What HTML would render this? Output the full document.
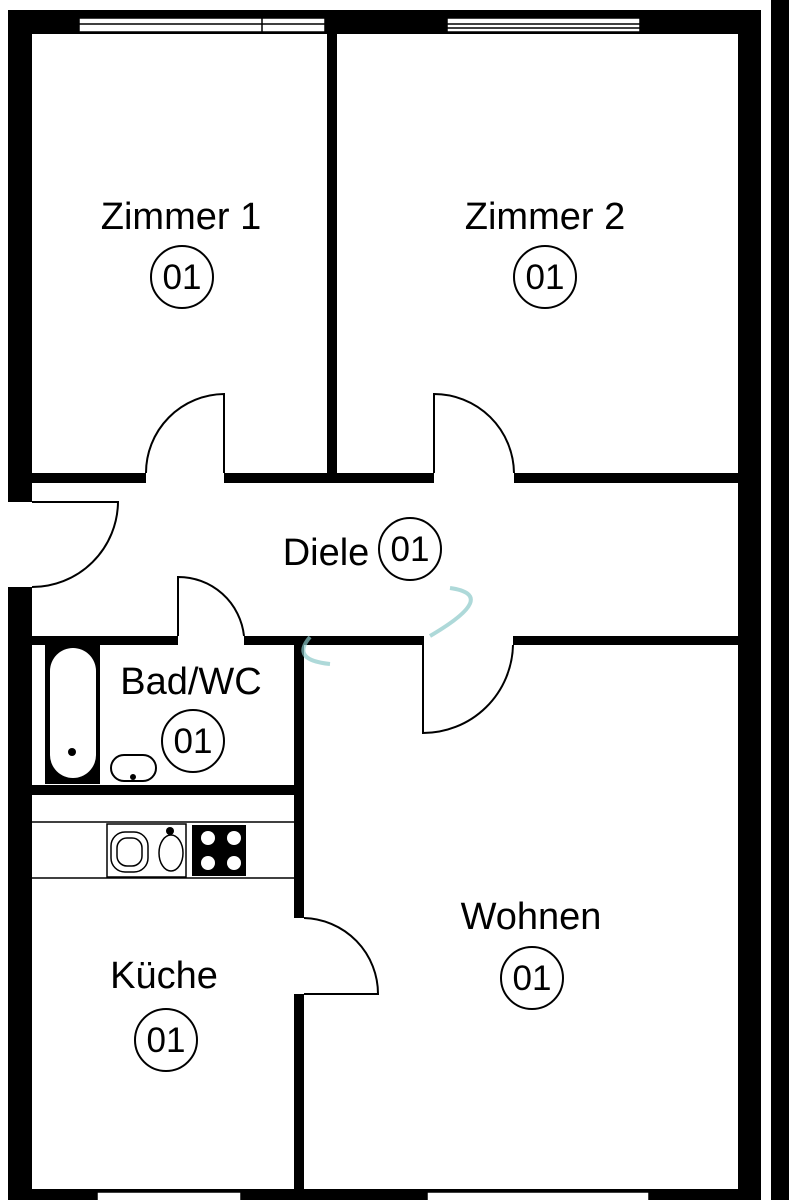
<!DOCTYPE html>
<html><head><meta charset="utf-8"><style>
html,body{margin:0;padding:0;background:#fff;}
svg{display:block;}
text{font-family:"Liberation Sans",Arial,sans-serif;fill:#000;}
</style></head><body>
<svg width="800" height="1200" viewBox="0 0 800 1200" xmlns="http://www.w3.org/2000/svg">
<rect width="800" height="1200" fill="#fff"/>
<rect x="8" y="10" width="753" height="24" fill="#000"/>
<rect x="8" y="10" width="24" height="492" fill="#000"/>
<rect x="8" y="587" width="24" height="613" fill="#000"/>
<rect x="738" y="10" width="23" height="1190" fill="#000"/>
<rect x="8" y="1189" width="753" height="11" fill="#000"/>
<rect x="771" y="0" width="18" height="1200" fill="#000"/>
<g fill="#fff" stroke="#000" stroke-width="1.5">
<rect x="79" y="18" width="246" height="14"/>
<rect x="447" y="18" width="193" height="14"/>
<rect x="97" y="1192" width="144" height="10"/>
<rect x="427" y="1192" width="222" height="10"/>
</g>
<g stroke="#000" stroke-width="1.5">
<line x1="79" y1="24" x2="325" y2="24"/>
<line x1="262" y1="18" x2="262" y2="32"/>
<line x1="447" y1="24" x2="640" y2="24"/>
<line x1="447" y1="28" x2="640" y2="28"/>
</g>
<rect x="327" y="30" width="10" height="453" fill="#000"/>
<rect x="30" y="473" width="116" height="10" fill="#000"/>
<rect x="224" y="473" width="210" height="10" fill="#000"/>
<rect x="514" y="473" width="226" height="10" fill="#000"/>
<rect x="30" y="636" width="148" height="9" fill="#000"/>
<rect x="244" y="636" width="180" height="9" fill="#000"/>
<rect x="513" y="636" width="227" height="9" fill="#000"/>
<rect x="294" y="636" width="10" height="282" fill="#000"/>
<rect x="294" y="994" width="10" height="200" fill="#000"/>
<rect x="30" y="785" width="266" height="10" fill="#000"/>
<g fill="none" stroke="#000" stroke-width="2">
<path d="M224 473 V394 A79 79 0 0 0 146 473"/>
<path d="M434 473 V394 A80 80 0 0 1 514 473"/>
<path d="M32 502 H118 A86 86 0 0 1 32 587"/>
<path d="M178 636 V577 A66 66 0 0 1 244 636"/>
<path d="M423 645 V733 A90 90 0 0 0 513 645"/>
<path d="M304 918 A76 76 0 0 1 378 994 H304"/>
</g>
<rect x="45" y="643" width="55" height="141" fill="#000"/>
<rect x="50" y="648" width="46" height="130" rx="23" fill="#fff"/>
<circle cx="72" cy="752" r="4" fill="#000"/>
<rect x="111" y="755" width="45" height="26" rx="13" fill="#fff" stroke="#000" stroke-width="2"/>
<circle cx="133" cy="777" r="3" fill="#000"/>
<g stroke="#000" stroke-width="1.5" fill="none">
<line x1="32" y1="822" x2="294" y2="822"/>
<line x1="32" y1="878" x2="294" y2="878"/>
<rect x="107" y="824" width="79" height="53"/>
<rect x="111" y="832" width="37" height="40" rx="14"/>
<rect x="117" y="838" width="25" height="28" rx="10"/>
<ellipse cx="171" cy="853" rx="12" ry="18"/>
</g>
<circle cx="170" cy="831" r="4" fill="#000"/>
<rect x="192" y="825" width="54" height="51" fill="#000"/>
<g fill="#fff"><circle cx="208" cy="838" r="7"/><circle cx="234" cy="838" r="7"/><circle cx="208" cy="863" r="7"/><circle cx="234" cy="863" r="7"/></g>
<g fill="none" stroke="#8cc9c9" stroke-width="4" opacity="0.7">
<path d="M310 637 Q290 660 330 664"/>
<path d="M450 588 Q500 595 430 636"/>
</g>
<g font-size="38" text-anchor="middle">
<text x="181" y="229">Zimmer 1</text>
<text x="545" y="229">Zimmer 2</text>
<text x="326" y="565">Diele</text>
<text x="191" y="694">Bad/WC</text>
<text x="531" y="929">Wohnen</text>
<text x="164" y="988">Küche</text>
</g>
<g fill="none" stroke="#000" stroke-width="2">
<circle cx="182" cy="277" r="31"/>
<circle cx="545" cy="277" r="31"/>
<circle cx="410" cy="549" r="31"/>
<circle cx="193" cy="741" r="31"/>
<circle cx="532" cy="978" r="31"/>
<circle cx="166" cy="1040" r="31"/>
</g>
<g font-size="35" text-anchor="middle">
<text x="182" y="289">01</text>
<text x="545" y="289">01</text>
<text x="410" y="561">01</text>
<text x="193" y="753">01</text>
<text x="532" y="990">01</text>
<text x="166" y="1052">01</text>
</g>
</svg>
</body></html>
